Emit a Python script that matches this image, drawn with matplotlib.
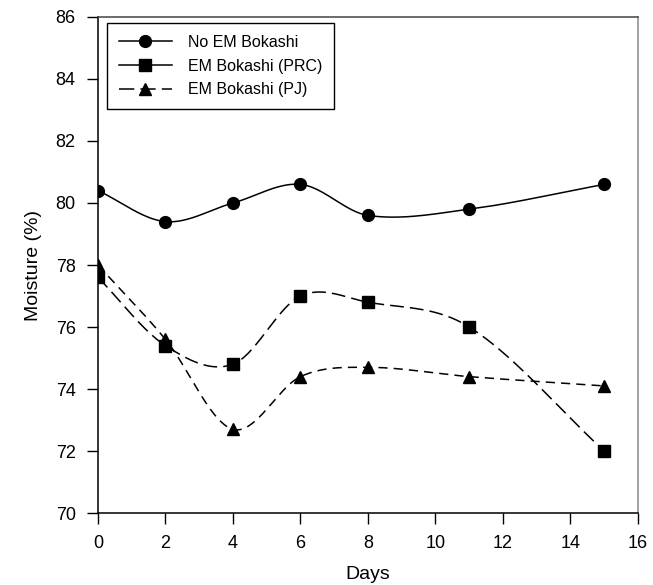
import numpy as np
import matplotlib
matplotlib.use("Agg")
import matplotlib.pyplot as plt

# values
days = [0, 2, 4, 6, 8, 11, 15]
no_em = [80.4, 79.4, 80.0, 80.6, 79.6, 79.8, 80.6]
em_prc = [77.6, 75.4, 74.8, 77.0, 76.8, 76.0, 72.0]
em_pj = [78.0, 75.6, 72.7, 74.4, 74.7, 74.4, 74.1]


def smooth(x, y, n=40):
    # Catmull-Rom style Hermite curve through the points, only for drawing
    x = np.asarray(x, float)
    y = np.asarray(y, float)
    k = len(x)
    m = np.zeros(k)
    m[0] = (y[1] - y[0]) / (x[1] - x[0])
    m[-1] = (y[-1] - y[-2]) / (x[-1] - x[-2])
    m[1:-1] = (y[2:] - y[:-2]) / (x[2:] - x[:-2])
    xs_all, ys_all = [], []
    for i in range(k - 1):
        h = x[i + 1] - x[i]
        t = np.linspace(0, 1, n)
        h00 = 2 * t ** 3 - 3 * t ** 2 + 1
        h10 = t ** 3 - 2 * t ** 2 + t
        h01 = -2 * t ** 3 + 3 * t ** 2
        h11 = t ** 3 - t ** 2
        xs_all.append(x[i] + t * h)
        ys_all.append(h00 * y[i] + h10 * h * m[i] + h01 * y[i + 1] + h11 * h * m[i + 1])
    return np.concatenate(xs_all), np.concatenate(ys_all)


plt.rcParams['font.family'] = ['Liberation Sans', 'DejaVu Sans']

fig = plt.figure(figsize=(6.53, 5.85), dpi=100)
ax = fig.add_axes([0.150, 0.123, 0.827, 0.848])

series = [
    (no_em, 'o', (0, ()), 'No EM Bokashi'),
    (em_prc, 's', (0, (9, 4)), 'EM Bokashi (PRC)'),
    (em_pj, '^', (0, (6, 4)), 'EM Bokashi (PJ)'),
]
for vals, mk, ls, label in series:
    xs, ys = smooth(days, vals)
    ax.plot(xs, ys, color='black', lw=1.1, linestyle=ls)
    ax.plot(days, vals, linestyle='none', marker=mk, color='black', ms=8.5)
    # legend handles in the reference are drawn solid (PJ gets a short dash tail)
    ax.plot([], [], color='black', lw=1.1, linestyle='-' if mk != '^' else (0, (10, 4)),
            marker=mk, ms=8.5, label=label)

ax.set_xlim(0, 16)
ax.set_ylim(70, 86)
ax.set_xticks(range(0, 17, 2))
ax.set_yticks(range(70, 87, 2))
ax.tick_params(axis='both', direction='out', length=8, width=1, labelsize=13,
               top=False, right=False)
ax.tick_params(axis='y', pad=8)
ax.tick_params(axis='x', pad=8)
for s in ax.spines.values():
    s.set_linewidth(1.1)
ax.spines['right'].set_color('#888888')
ax.spines['top'].set_color('#444444')

ax.set_xlabel('Days', fontsize=14, labelpad=10)
ax.set_ylabel('Moisture (%)', fontsize=14, labelpad=10)

leg = ax.legend(loc='upper left', bbox_to_anchor=(0.017, 0.988), fontsize=11.5,
                fancybox=False, edgecolor='black', framealpha=1, handlelength=3.3,
                borderpad=0.75, labelspacing=0.55, handletextpad=1.0, borderaxespad=0)
leg.get_frame().set_linewidth(1.0)

fig.savefig('out.png', dpi=100)
